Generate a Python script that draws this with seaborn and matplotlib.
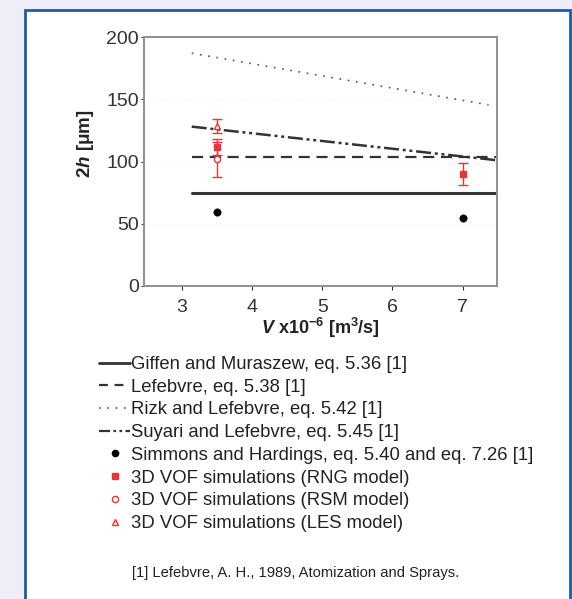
import numpy as np
import pandas as pd
import seaborn as sns
import matplotlib
matplotlib.use("Agg")
import matplotlib.pyplot as plt
from matplotlib.patches import Rectangle
from matplotlib.lines import Line2D

sns.set_style("white")
plt.rcParams['font.family'] = ['Liberation Sans', 'DejaVu Sans']
plt.rcParams['mathtext.fontset'] = 'custom'
plt.rcParams['mathtext.rm'] = 'Liberation Sans'
plt.rcParams['mathtext.it'] = 'Liberation Sans:italic'
plt.rcParams['mathtext.bf'] = 'Liberation Sans:bold'
plt.rcParams['mathtext.bfit'] = 'Liberation Sans:italic:bold'

# ---- data ----
line_x = [3.14, 7.49]
giffen_y = [74.5, 74.5]
lefebvre_y = [103.3, 103.3]
rizk_x = [3.14, 7.37]
rizk_y = [187, 145.5]
suyari_y = [128, 101]

simmons_x = [3.5, 7.0]
simmons_y = [59.7, 54.3]

rng_x = [3.5, 7.0]
rng_y = [111.4, 90]
rng_err = [6.5, 8.5]

rsm_x = [3.5]
rsm_y = [101.7]
rsm_err = [13.9]

les_x = [3.5]
les_y = [128.5]
les_err = [5.5]

x_ticks = [3, 4, 5, 6, 7]
y_ticks = [0, 50, 100, 150, 200]

labels = [
    "Giffen and Muraszew, eq. 5.36 [1]",
    "Lefebvre, eq. 5.38 [1]",
    "Rizk and Lefebvre, eq. 5.42 [1]",
    "Suyari and Lefebvre, eq. 5.45 [1]",
    "Simmons and Hardings, eq. 5.40 and eq. 7.26 [1]",
    "3D VOF simulations (RNG model)",
    "3D VOF simulations (RSM model)",
    "3D VOF simulations (LES model)",
]
footnote = "[1] Lefebvre, A. H., 1989, Atomization and Sprays."

# ---- figure ----
fig = plt.figure(figsize=(5.72, 5.99), dpi=100, facecolor="#edeef6")
panel = Rectangle((25 / 572, -0.05), (570 - 25) / 572, 1 - 10 / 599 + 0.05,
                  transform=fig.transFigure, facecolor="white",
                  edgecolor="#1a5ea8", linewidth=2, zorder=-10)
fig.patches.append(panel)

ax = fig.add_axes([144 / 572, 1 - 286 / 599, (497 - 144) / 572, (286 - 37) / 599])
ax.set_facecolor("white")

red = "#e8343a"
dark = "#333333"
suy_dash = (6, 1.5, 1.2, 1.5, 1.2, 1.5)

sns.lineplot(x=line_x, y=giffen_y, ax=ax, color=dark, lw=2.2, linestyle="-")
sns.lineplot(x=line_x, y=lefebvre_y, ax=ax, color=dark, lw=1.6).lines[-1].set_dashes((5, 3))
l3 = sns.lineplot(x=rizk_x, y=rizk_y, ax=ax, color="#555555", lw=1.2).lines[-1]
l3.set_dashes((1, 4))
l4 = sns.lineplot(x=line_x, y=suyari_y, ax=ax, color=dark, lw=1.8).lines[-1]
l4.set_dashes(suy_dash)

sns.scatterplot(x=simmons_x, y=simmons_y, ax=ax, color="black", s=28, marker="o", edgecolor="black", zorder=5)
ax.errorbar(rsm_x, rsm_y, yerr=rsm_err, fmt="o", mfc="white", mec=red, ecolor=red,
            ms=4.5, capsize=3.5, elinewidth=1, zorder=6)
ax.errorbar(les_x, les_y, yerr=les_err, fmt="^", mfc="white", mec=red, ecolor=red,
            ms=4.5, capsize=3.5, elinewidth=1, zorder=6)
ax.errorbar(rng_x, rng_y, yerr=rng_err, fmt="s", mfc=red, mec=red, ecolor=red,
            ms=4.5, capsize=3.5, elinewidth=1, zorder=7)

ax.set_xlim(2.46, 7.49)
ax.set_ylim(0, 200)
ax.set_xticks(x_ticks)
ax.set_yticks(y_ticks)
for y in [50, 100, 150]:
    ax.axhline(y, color="#f0f0f0", lw=0.8, ls=":", zorder=0)
for s in ax.spines.values():
    s.set_color("#8f8f8f")
    s.set_linewidth(1.4)
ax.tick_params(axis="x", labelsize=14, colors="#333333", length=3,
               direction="out", width=0.8, bottom=True, pad=6)
ax.tick_params(axis="y", labelsize=14, colors="#333333", length=2.5,
               direction="out", width=0.8, left=True, pad=1.2)
for t in ax.get_xticklabels() + ax.get_yticklabels():
    t.set_color("#333333")

ax.set_ylabel(r"$\mathbf{2}\boldsymbol{h}$ $\mathbf{[\mu m]}$", fontsize=13.5, color="#222222")
ax.yaxis.set_label_coords(-0.135, 0.57)
ax.set_xlabel(r"$\boldsymbol{V}$ $\mathbf{x10^{-6}\ [m^3/s]}$", fontsize=13, color="#222222", labelpad=0.5)

handles = [
    Line2D([], [], color=dark, lw=2.0, ls="-"),
    Line2D([], [], color=dark, lw=1.6, dashes=(4, 3)),
    Line2D([], [], color="#555555", lw=1.2, dashes=(1, 4)),
    Line2D([], [], color=dark, lw=1.6, dashes=(5, 1.5, 1.2, 1.5, 1.2, 1.5)),
    Line2D([], [], color="black", marker="o", ls="none", ms=4.5),
    Line2D([], [], color=red, marker="s", ls="none", ms=4.5),
    Line2D([], [], color=red, marker="o", mfc="white", ls="none", ms=4.5),
    Line2D([], [], color=red, marker="^", mfc="white", ls="none", ms=4.5),
]
fig.legend(handles, labels, loc="upper left", bbox_to_anchor=(99 / 572, 1 - 356 / 599),
           frameon=False, fontsize=13.3, handlelength=1.7, handletextpad=0.05,
           labelspacing=0.31, borderpad=0, borderaxespad=0, labelcolor="#222222")

fig.text(132 / 572, 1 - 573 / 599, footnote, fontsize=10.6, color="#222222", va="center", ha="left")

fig.savefig("out.png", dpi=100, facecolor=fig.get_facecolor())
